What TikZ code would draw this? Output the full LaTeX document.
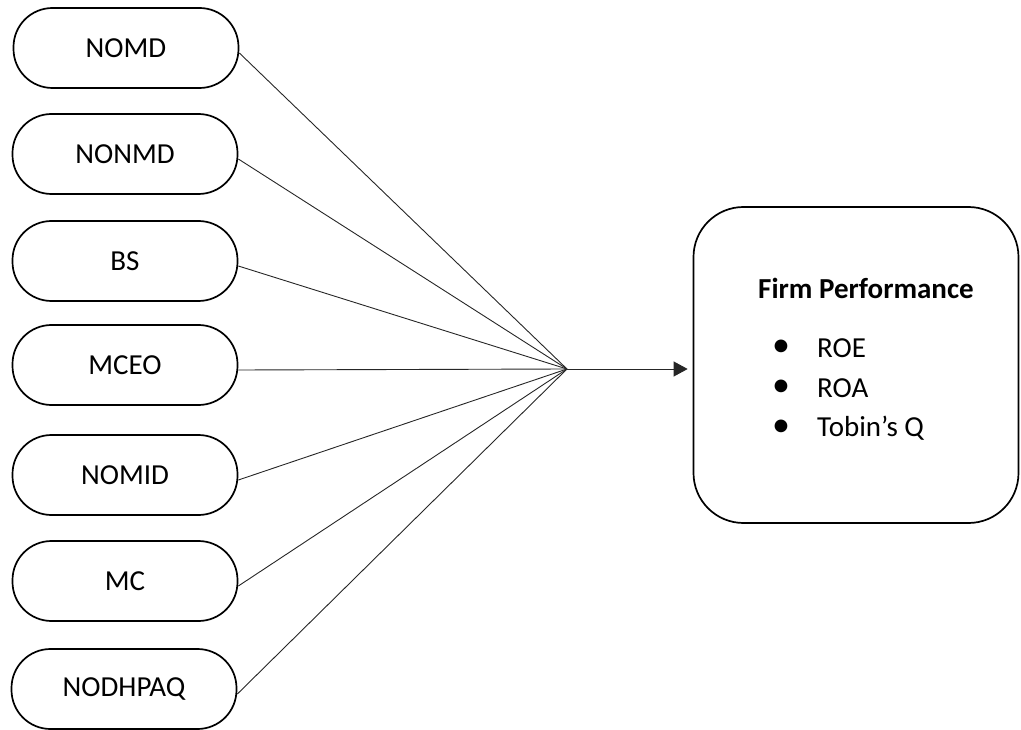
\documentclass[tikz,border=0pt]{standalone}
\usepackage{fontspec}
\setmainfont{Carlito}
\usetikzlibrary{arrows.meta}
\begin{document}
\begin{tikzpicture}[x=1pt,y=-1pt,
  txt/.style={font=\fontsize{29}{34}\selectfont, text=black},
  var/.style={txt, draw, line width=1.7pt, rounded corners=39pt,
    minimum width=225pt, minimum height=80pt, inner sep=0pt},
  outcome/.style={draw, line width=1.7pt, rounded corners=50pt,
    minimum width=325pt, minimum height=316pt, inner sep=0pt},
  link/.style={line width=0.9pt, draw=black!85},
  item/.style={txt, anchor=west, inner sep=0pt},
  dot/.style={font=\fontsize{36}{40}\selectfont, text=black, inner sep=0pt}]
\useasboundingbox (0,0) rectangle (1021,730);

% predictor boxes
\node[var] (v1) at (126,48)  {NOMD};
\node[var] (v2) at (125,154) {NONMD};
\node[var] (v3) at (125,261) {BS};
\node[var] (v4) at (125,365) {MCEO};
\node[var] (v5) at (125,475) {NOMID};
\node[var] (v6) at (125,581) {MC};
\node[var] (v7) at (124,689) {NODHPAQ};

% outcome box
\node[outcome] (fp) at (856,365) {};
\node[txt, font=\fontsize{29}{34}\selectfont\bfseries] (title) at (866,288) {Firm Performance};
\node[dot] (b1) at (781,348) {•};
\node[dot] (b2) at (781,388) {•};
\node[dot] (b3) at (781,428) {•};
\node[item] (i1) at (817,348) {ROE};
\node[item] (i2) at (817,388) {ROA};
\node[item] (i3) at (817,428) {Tobin’s Q};

% converging links, leaving each box just below its east point
\coordinate (hub) at (567,369);
\foreach \v in {v1,v2,v3,v4,v5,v6,v7}
  \draw[link] ([yshift=-5pt]\v.east) -- (hub);
\draw[link, -{Triangle[length=14pt,width=15pt]}, shorten >=5pt]
  (hub) -- (hub -| fp.west);
\end{tikzpicture}
\end{document}
